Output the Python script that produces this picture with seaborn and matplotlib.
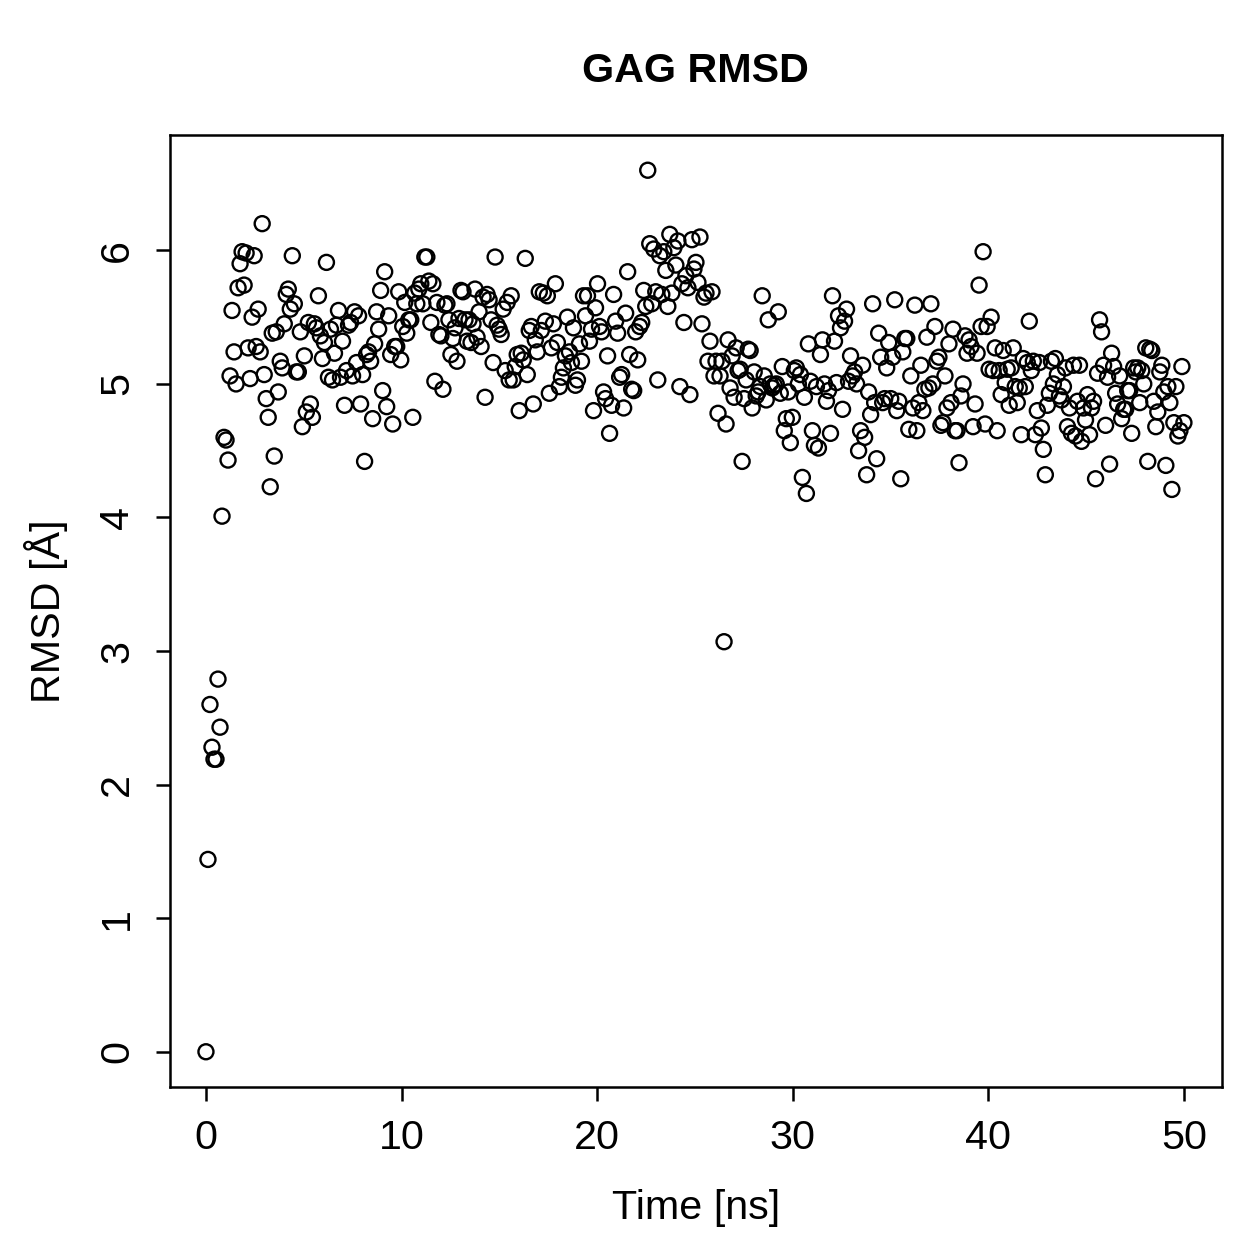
import numpy as np
import pandas as pd
import matplotlib
matplotlib.use("Agg")
import matplotlib.pyplot as plt
import seaborn as sns

rmsd = [0.00, 1.44, 2.60, 2.28, 2.19, 2.19, 2.79, 2.43, 4.01, 4.60, 4.58, 4.43, 5.06, 5.55, 5.24, 5.00, 5.72, 5.90, 5.99, 5.74,
        5.98, 5.27, 5.04, 5.50, 5.96, 5.28, 5.56, 5.24, 6.20, 5.07, 4.89, 4.75, 4.23, 5.38, 4.46, 5.39, 4.94, 5.17, 5.12, 5.45,
        5.67, 5.71, 5.56, 5.96, 5.60, 5.09, 5.09, 5.39, 4.68, 5.21, 4.79, 5.46, 4.85, 4.75, 5.45, 5.42, 5.66, 5.36, 5.19, 5.31,
        5.91, 5.05, 5.41, 5.03, 5.23, 5.44, 5.55, 5.05, 5.32, 4.84, 5.10, 5.44, 5.46, 5.06, 5.54, 5.16, 5.51, 4.85, 5.07, 4.42,
        5.22, 5.24, 5.17, 4.74, 5.30, 5.54, 5.41, 5.70, 4.95, 5.84, 4.83, 5.51, 5.22, 4.70, 5.28, 5.28, 5.69, 5.18, 5.43, 5.61,
        5.38, 5.48, 5.48, 4.75, 5.68, 5.60, 5.71, 5.75, 5.60, 5.95, 5.95, 5.77, 5.46, 5.75, 5.02, 5.61, 5.37, 5.36, 4.96, 5.59,
        5.60, 5.48, 5.22, 5.34, 5.42, 5.17, 5.49, 5.70, 5.69, 5.48, 5.32, 5.48, 5.31, 5.45, 5.71, 5.35, 5.54, 5.28, 5.65, 4.90,
        5.67, 5.63, 5.48, 5.16, 5.95, 5.44, 5.41, 5.37, 5.56, 5.10, 5.61, 5.03, 5.66, 5.03, 5.13, 5.22, 4.80, 5.23, 5.18, 5.94,
        5.07, 5.40, 5.43, 4.85, 5.33, 5.24, 5.69, 5.40, 5.68, 5.47, 5.66, 4.93, 5.27, 5.45, 5.75, 5.31, 4.98, 5.05, 5.12, 5.21,
        5.50, 5.24, 5.16, 5.42, 4.99, 5.03, 5.30, 5.17, 5.66, 5.51, 5.66, 5.32, 5.41, 4.80, 5.57, 5.75, 5.43, 5.39, 4.94, 4.89,
        5.21, 4.63, 4.84, 5.67, 5.47, 5.38, 5.05, 5.07, 4.82, 5.53, 5.84, 5.22, 4.96, 4.95, 5.39, 5.18, 5.43, 5.46, 5.70, 5.58,
        6.60, 6.05, 5.60, 6.01, 5.69, 5.03, 5.96, 5.67, 5.99, 5.85, 5.58, 6.12, 5.68, 6.02, 5.89, 6.07, 4.98, 5.75, 5.46, 5.81,
        5.72, 4.92, 6.08, 5.86, 5.91, 5.76, 6.10, 5.45, 5.65, 5.68, 5.17, 5.32, 5.69, 5.06, 5.17, 4.78, 5.06, 5.17, 3.07, 4.70,
        5.33, 4.97, 5.21, 4.90, 5.27, 5.10, 5.11, 4.42, 4.89, 5.03, 5.26, 5.25, 4.82, 5.09, 4.91, 4.94, 4.98, 5.66, 5.06, 4.88,
        5.48, 5.00, 4.97, 4.99, 5.00, 5.54, 4.93, 5.13, 4.65, 4.74, 4.94, 4.56, 4.75, 5.10, 5.12, 5.00, 5.07, 4.30, 4.90, 4.18,
        5.30, 5.02, 4.65, 4.54, 4.98, 4.52, 5.22, 5.33, 5.00, 4.87, 4.95, 4.63, 5.66, 5.32, 5.01, 5.51, 5.42, 4.81, 5.47, 5.56,
        5.02, 5.21, 5.06, 5.09, 5.00, 4.50, 4.65, 5.14, 4.60, 4.32, 4.94, 4.77, 5.60, 4.86, 4.44, 5.38, 5.20, 4.86, 4.89, 5.12,
        5.31, 4.89, 5.20, 5.63, 4.80, 4.87, 4.29, 5.24, 5.34, 5.34, 4.66, 5.06, 4.82, 5.59, 4.65, 4.86, 5.14, 4.80, 4.96, 5.35,
        4.97, 5.60, 5.00, 5.43, 5.17, 5.20, 4.69, 4.71, 5.06, 4.82, 5.30, 4.86, 5.41, 4.65, 4.65, 4.41, 4.91, 5.00, 5.36, 5.23,
        5.33, 5.28, 4.68, 4.85, 5.23, 5.74, 5.43, 5.99, 4.70, 5.43, 5.11, 5.50, 5.10, 5.27, 4.65, 5.10, 4.92, 5.25, 5.01, 5.11,
        4.84, 5.12, 5.27, 4.98, 4.86, 4.97, 4.62, 5.19, 4.98, 5.16, 5.47, 5.10, 5.17, 4.62, 4.80, 5.16, 4.67, 4.51, 4.32, 4.84,
        4.93, 5.17, 5.00, 5.19, 5.07, 4.91, 4.88, 4.98, 5.12, 4.68, 4.82, 4.63, 5.14, 4.61, 4.87, 5.14, 4.57, 4.82, 4.73, 4.92,
        4.62, 4.82, 4.87, 4.29, 5.08, 5.48, 5.39, 5.14, 4.69, 5.05, 4.40, 5.23, 5.13, 4.93, 4.85, 5.06, 4.74, 4.81, 4.81, 4.95,
        4.95, 4.63, 5.12, 5.09, 5.12, 4.86, 5.10, 5.00, 5.27, 4.42, 5.26, 5.25, 4.87, 4.68, 4.79, 5.09, 5.14, 4.94, 4.39, 4.98,
        4.86, 4.21, 4.71, 4.98, 4.61, 4.65, 5.13, 4.71]

# frames are sampled at a constant interval over the 50 ns run
time_start = 0.0
time_end = 50.0
time_ns = np.linspace(time_start, time_end, len(rmsd))

x_ticks = [0, 10, 20, 30, 40, 50]
y_ticks = [0, 1, 2, 3, 4, 5, 6]

df = pd.DataFrame({"time": time_ns, "rmsd": rmsd})

sns.set_style("ticks")
plt.rcParams["font.family"] = ["Liberation Sans", "DejaVu Sans"]
plt.rcParams["text.color"] = "black"
plt.rcParams["axes.labelcolor"] = "black"
plt.rcParams["xtick.color"] = "black"
plt.rcParams["ytick.color"] = "black"

FS = 16.5

fig = plt.figure(figsize=(1259 / 180, 1259 / 180), dpi=180)
ax = fig.add_axes([0.135, 0.1366, 0.8355, 0.7562])

sns.scatterplot(data=df, x="time", y="rmsd", ax=ax, marker="o",
                facecolors="none", edgecolor="black", linewidth=0.95, s=36)

ax.set_xlim(-1.84, 51.94)
ax.set_ylim(-0.264, 6.864)
ax.set_xticks(x_ticks)
ax.set_yticks(y_ticks)
ax.set_xticklabels([str(v) for v in x_ticks])
ax.set_yticklabels([str(v) for v in y_ticks])
for lab in ax.get_yticklabels():
    lab.set_rotation(90)
    lab.set_va("center")

for sp in ax.spines.values():
    sp.set_visible(True)
    sp.set_linewidth(1.0)
    sp.set_color("black")

ax.tick_params(axis="both", direction="out", length=5.6, width=1.0,
               labelsize=FS, colors="black")
ax.tick_params(axis="x", pad=7)
ax.tick_params(axis="y", pad=8)

ax.set_xlabel("Time [ns]", fontsize=FS, labelpad=13, color="black")
ax.set_ylabel("RMSD [Å]", fontsize=FS, labelpad=12, color="black")
ax.set_title("GAG RMSD", fontsize=FS, fontweight="bold", pad=21, color="black")

fig.savefig("out.png", dpi=180, facecolor="white")
